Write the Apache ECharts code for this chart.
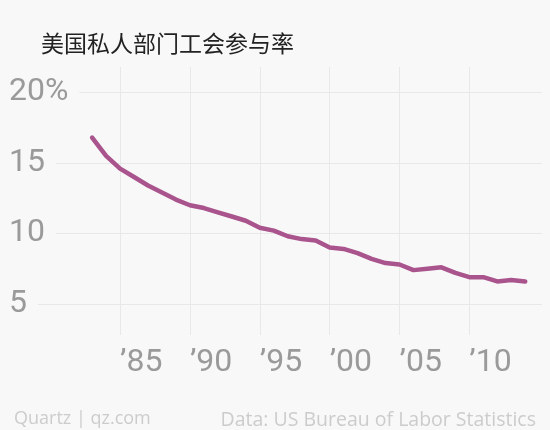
<!DOCTYPE html>
<html>
<head>
<meta charset="utf-8">
<script src="https://cdn.jsdelivr.net/npm/echarts@6/dist/echarts.min.js"></script>
<style>
  html, body { margin: 0; padding: 0; background: #f8f8f8; }
  #chart { width: 550px; height: 430px; }
</style>
</head>
<body>
<div id="chart"></div>
<script>
// 年份
const years = [1983, 1984, 1985, 1986, 1987, 1988, 1989, 1990, 1991, 1992,
  1993, 1994, 1995, 1996, 1997, 1998, 1999, 2000, 2001, 2002,
  2003, 2004, 2005, 2006, 2007, 2008, 2009, 2010, 2011, 2012, 2013, 2014]
// 私人部门工会参与率 (%)
const rates = [16.8, 15.5, 14.6, 14.0, 13.4, 12.9, 12.4, 12.0, 11.8, 11.5,
  11.2, 10.9, 10.4, 10.2, 9.8, 9.6, 9.5, 9.0, 8.9, 8.6,
  8.2, 7.9, 7.8, 7.4, 7.5, 7.6, 7.2, 6.9, 6.9, 6.6, 6.7, 6.6]
// 刻度
const xTicks = [1985, 1990, 1995, 2000, 2005, 2010]
const yTicks = [5, 10, 15, 20]

const bg = '#f8f8f8'
const chart = echarts.init(document.getElementById('chart'))

chart.setOption({
  backgroundColor: bg,
  animation: false,
  title: [
    {
      text: '美国私人部门工会参与率',
      left: 36,
      top: 27,
      textStyle: { fontSize: 23, fontWeight: 'normal', color: '#222', fontFamily: 'Noto Sans CJK SC' }
    },
    {
      text: 'Quartz | qz.com',
      left: 9,
      top: 405,
      textStyle: { fontSize: 18, fontWeight: 'normal', color: '#cccccc', fontFamily: 'Open Sans' }
    },
    {
      text: 'Data: US Bureau of Labor Statistics',
      right: 9,
      top: 405,
      textStyle: { fontSize: 19.5, fontWeight: 'normal', color: '#cccccc', fontFamily: 'Open Sans' }
    }
  ],
  grid: { left: 9, right: 8, top: 67, bottom: 95, containLabel: false },
  xAxis: {
    type: 'value',
    min: 1977.05,
    max: 2015.2,
    axisLine: { show: false },
    axisTick: { show: false, customValues: xTicks },
    splitLine: { show: true, lineStyle: { color: '#e8e8e8', width: 1 } },
    axisLabel: {
      customValues: xTicks,
      formatter: v => '\u2019' + String(v).slice(2),
      align: 'left',
      margin: 12,
      fontSize: 32,
      fontFamily: 'Roboto',
      color: '#9a9a9a'
    }
  },
  yAxis: {
    type: 'value',
    min: 2.8,
    max: 21.8,
    axisLine: { show: false },
    axisTick: { show: false, customValues: yTicks },
    splitLine: { show: true, lineStyle: { color: '#e8e8e8', width: 1 } },
    axisLabel: {
      customValues: yTicks,
      inside: true,
      margin: 0,
      align: 'left',
      formatter: v => v === 20 ? '20%' : String(v),
      fontSize: 32,
      fontFamily: 'Roboto',
      color: '#9a9a9a',
      backgroundColor: bg,
      padding: [0, 11, 0, 0]
    }
  },
  series: [
    {
      type: 'line',
      data: years.map((y, i) => [y, rates[i]]),
      showSymbol: false,
      smooth: false,
      lineStyle: { color: '#a9548c', width: 4.5, cap: 'round', join: 'round' },
      itemStyle: { color: '#a9548c' }
    }
  ]
})
</script>
</body>
</html>
